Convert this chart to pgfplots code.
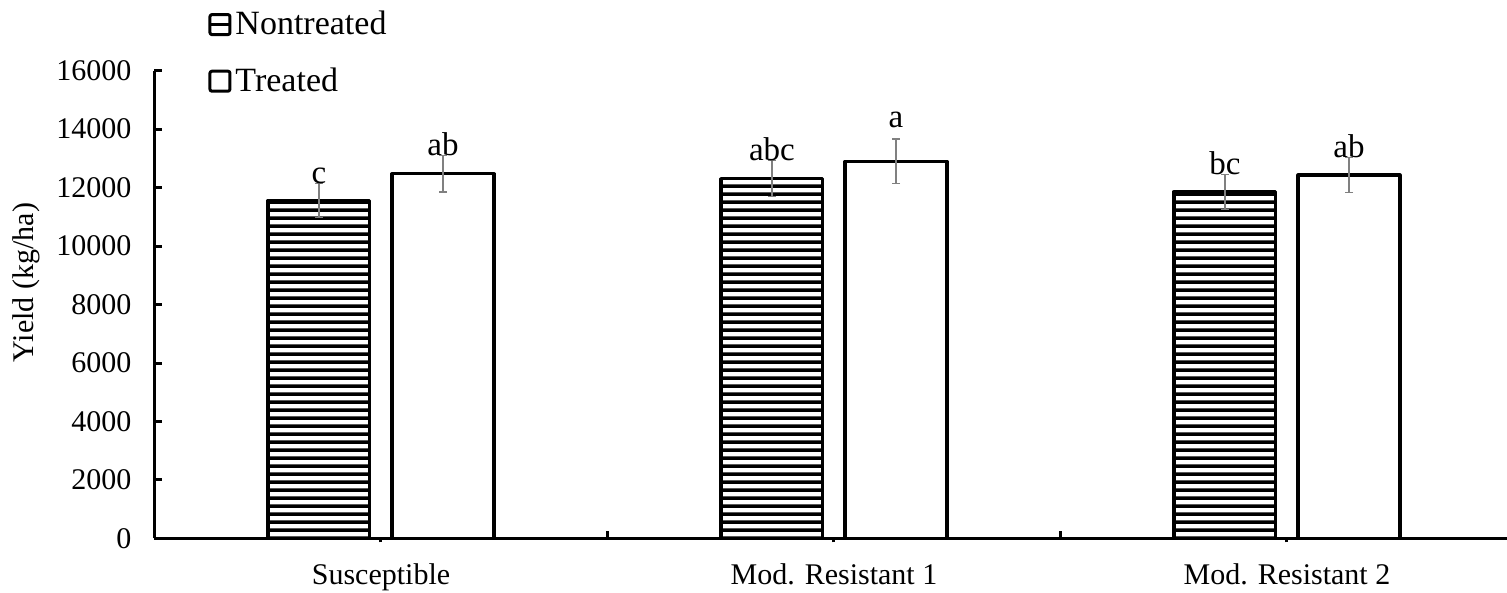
\documentclass[border=0pt]{standalone}
\usepackage{fontspec}
\setmainfont{Liberation Serif}
\usepackage{pgfplots}
\usepackage{pgfplotstable}
\pgfplotsset{compat=1.18}
\usetikzlibrary{patterns,calc}

\pgfdeclarepatternformonly{hstripes}{\pgfpointorigin}{\pgfqpoint{2000pt}{3.8pt}}{\pgfqpoint{2000pt}{3.8pt}}{%
  \pgfpathrectangle{\pgfqpoint{0pt}{0pt}}{\pgfqpoint{2000pt}{1.9pt}}\pgfusepath{fill}}

\pgfplotstableread{
x y err
0 11560 570
1 12310 610
2 11860 600
}\nontreated
\pgfplotstableread{
x y err
0 12470 620
1 12900 760
2 12430 610
}\treated

\begin{document}
\begin{tikzpicture}
\begin{axis}[
  name=ax,
  scale only axis,
  width=676.25pt, height=233.85pt,
  xmin=-0.5, xmax=2.4857,
  ymin=0, ymax=16000,
  scaled y ticks=false,
  clip=false,
  axis lines*=left,
  axis line style={line width=1.5pt, -},
  every tick/.style={black, line width=1.5pt},
  ytick={0,2000,...,16000},
  ytick align=inside,
  major tick length=3.75pt,
  xtick={0.5,1.5},
  xticklabels={},
  xtick align=inside,
  extra x ticks={0,1,2},
  extra x tick labels={Susceptible, Mod. Resistant 1, Mod. Resistant 2},
  extra x tick style={tick align=outside, major tick length=2pt, xticklabel style={yshift=-7pt}},
  /pgf/number format/assume math mode=true,
  yticklabel style={/pgf/number format/1000 sep={}, xshift=-8pt},
  tick label style={font=\fontsize{15}{18}\selectfont},
  ylabel={Yield (kg/ha)},
  ylabel style={font=\fontsize{15}{18}\selectfont, at={(rel axis cs:-0.0945,0.547)}, anchor=center},
  legend style={at={(rel axis cs:0.0396,1.1364)}, anchor=north west, draw=none, fill=none,
    font=\fontsize{17}{20}\selectfont, row sep=11pt, inner sep=0pt},
  legend cell align=left,
]
\addplot[ybar, bar width=0.225, bar shift=0, draw=black, line width=1.6pt, line join=round,
  pattern=hstripes, pattern color=black,
  legend image code/.code={\draw[line width=1.5pt, rounded corners=1pt, fill=white] (0pt,-5pt) rectangle (10pt,5pt); \draw[line width=1.3pt] (0pt,0pt) -- (10pt,0pt);},
  error bars/.cd, y dir=both, y explicit,
  error bar style={draw=gray, line width=0.6pt},
  error mark options={rotate=90, mark size=2pt, draw=gray, line width=0.6pt}]
  table[x expr=\thisrow{x}-0.137, y=y, y error=err]{\nontreated};
\addlegendentry{Nontreated}
\addplot[ybar, bar width=0.225, bar shift=0, draw=black, line width=1.6pt, line join=round,
  fill=white,
  legend image code/.code={\draw[line width=1.5pt, rounded corners=1pt, fill=white] (0pt,-5pt) rectangle (10pt,5pt);},
  error bars/.cd, y dir=both, y explicit,
  error bar style={draw=gray, line width=0.6pt},
  error mark options={rotate=90, mark size=2pt, draw=gray, line width=0.6pt}]
  table[x expr=\thisrow{x}+0.137, y=y, y error=err]{\treated};
\addlegendentry{Treated}

\node[anchor=base, font=\fontsize{16.5}{19}\selectfont] at (axis cs:-0.137,12130) {c};
\node[anchor=base, font=\fontsize{16.5}{19}\selectfont] at (axis cs:0.137,13090) {ab};
\node[anchor=base, font=\fontsize{16.5}{19}\selectfont] at (axis cs:0.863,12920) {abc};
\node[anchor=base, font=\fontsize{16.5}{19}\selectfont] at (axis cs:1.137,14040) {a};
\node[anchor=base, font=\fontsize{16.5}{19}\selectfont] at (axis cs:1.863,12460) {bc};
\node[anchor=base, font=\fontsize{16.5}{19}\selectfont] at (axis cs:2.137,13040) {ab};
\end{axis}
\pgfresetboundingbox
\useasboundingbox ($(ax.south west)+(-77.25pt,-27.3pt)$) rectangle ($(ax.north east)+(0pt,35.35pt)$);
\end{tikzpicture}
\end{document}
